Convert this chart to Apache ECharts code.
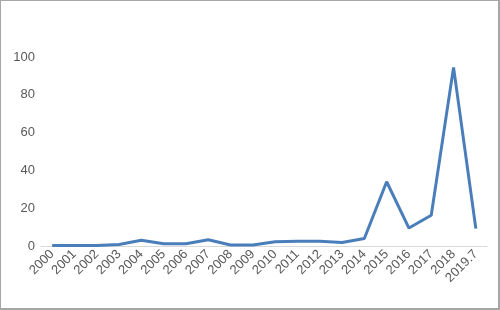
<!DOCTYPE html>
<html><head><meta charset="utf-8">
<script src="https://cdn.jsdelivr.net/npm/echarts@6/dist/echarts.min.js"></script>
<style>
html,body{margin:0;padding:0;background:#fff;}
#c{width:500px;height:310px;box-sizing:border-box;border:1px solid #a6a6a6;border-right:2px solid #a6a6a6;border-bottom:2px solid #a6a6a6;}
</style></head>
<body><div id="c"></div>
<script>
const categories = ["2000","2001","2002","2003","2004","2005","2006","2007","2008","2009","2010","2011","2012","2013","2014","2015","2016","2017","2018","2019.7"];
const values = [0.2,0.3,0.2,0.8,3.0,1.2,1.2,3.3,0.5,0.5,2.3,2.5,2.5,1.8,4.0,34,9.5,16.3,94.5,9.2];
const yTicks = {min:0,max:100,interval:20};

const chart = echarts.init(document.getElementById('c'), null, {renderer:'canvas'});
chart.setOption({
  animation:false,
  grid:{left:40,right:11,top:56,bottom:62},
  xAxis:{type:'category',data:categories,boundaryGap:true,
    axisLine:{lineStyle:{color:'#d9d9d9',width:1}},
    axisTick:{show:false},
    axisLabel:{rotate:45,interval:0,color:'#595959',fontSize:13,fontFamily:'Liberation Sans',margin:6}
  },
  yAxis:{type:'value',min:yTicks.min,max:yTicks.max,interval:yTicks.interval,
    axisLine:{show:false},axisTick:{show:false},splitLine:{show:false},
    axisLabel:{color:'#595959',fontSize:13,fontFamily:'Liberation Sans',margin:6}
  },
  series:[{type:'line',data:values,symbol:'none',lineStyle:{color:'#4a7ebb',width:3},itemStyle:{color:'#4a7ebb'}}]
});
</script></body></html>
